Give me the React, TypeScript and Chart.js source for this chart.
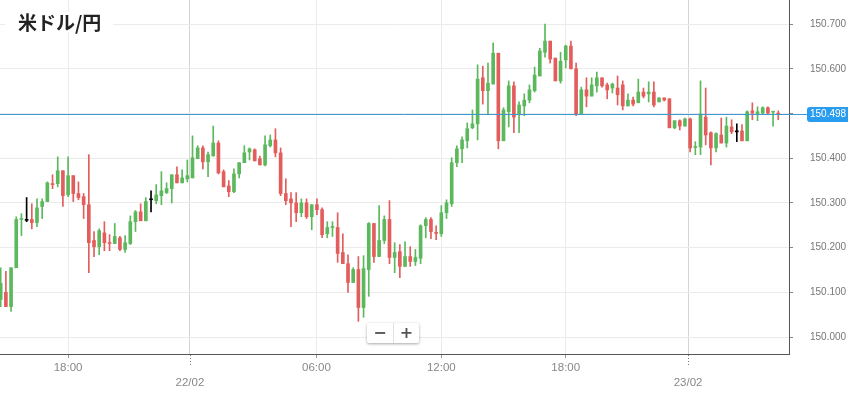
import { useEffect, useRef } from "react";
import { Chart, registerables } from "chart.js";
Chart.register(...registerables);

const TITLE = "米ドル/円";
const LAST_PRICE = 150.498;
const X_TICK_INDEX = [13, 36.5, 60.9, 85, 109, 132.6];
const X_TICK_LABELS = ["18:00", "22/02", "06:00", "12:00", "18:00", "23/02"];
const DATE_TICK_INDEX = [36.5, 132.6];
const Y_TICKS = [150.0, 150.1, 150.2, 150.3, 150.4, 150.5, 150.6, 150.7];
const X_MIN = -0.135;
const X_MAX = 152.07;
const Y_MIN = 149.962;
const Y_MAX = 150.754;

const OPEN = [
  150.084, 150.100, 150.068, 150.155, 150.263, 150.261, 150.263, 150.256, 150.292, 150.303,
  150.343, 150.343, 150.372, 150.318, 150.361, 150.321, 150.314, 150.296, 150.216, 150.202,
  150.233, 150.211, 150.209, 150.222, 150.196, 150.209, 150.258, 150.280, 150.260, 150.307,
  150.305, 150.316, 150.323, 150.332, 150.363, 150.345, 150.354, 150.356, 150.399, 150.423,
  150.392, 150.405, 150.434, 150.370, 150.338, 150.325, 150.365, 150.390, 150.414, 150.419,
  150.399, 150.385, 150.428, 150.441, 150.412, 150.321, 150.309, 150.300, 150.278, 150.300,
  150.269, 150.296, 150.285, 150.231, 150.245, 150.245, 150.189, 150.164, 150.122, 150.151,
  150.066, 150.151, 150.254, 150.180, 150.216, 150.263, 150.178, 150.191, 150.158, 150.180,
  150.169, 150.176, 150.249, 150.263, 150.234, 150.231, 150.278, 150.298, 150.390, 150.421,
  150.439, 150.468, 150.477, 150.580, 150.551, 150.566, 150.635, 150.439, 150.504, 150.562,
  150.499, 150.517, 150.530, 150.551, 150.584, 150.637, 150.662, 150.624, 150.573, 150.620,
  150.651, 150.600, 150.499, 150.553, 150.539, 150.562, 150.580, 150.564, 150.557, 150.557,
  150.564, 150.517, 150.530, 150.524, 150.548, 150.544, 150.548, 150.526, 150.535, 150.533,
  150.468, 150.484, 150.472, 150.488, 150.424, 150.425, 150.492, 150.457, 150.423, 150.452,
  150.434, 150.470, 150.459, 150.461, 150.439, 150.506, 150.499, 150.501, 150.513, 150.503,
  150.501,
];
const HIGH = [
  150.155, 150.147, 150.155, 150.269, 150.276, 150.312, 150.298, 150.309, 150.309, 150.347,
  150.363, 150.403, 150.372, 150.403, 150.361, 150.347, 150.321, 150.408, 150.236, 150.242,
  150.258, 150.229, 150.254, 150.225, 150.227, 150.271, 150.283, 150.298, 150.312, 150.327,
  150.341, 150.370, 150.345, 150.363, 150.381, 150.374, 150.396, 150.450, 150.428, 150.428,
  150.414, 150.472, 150.439, 150.374, 150.350, 150.376, 150.390, 150.428, 150.423, 150.421,
  150.405, 150.450, 150.452, 150.466, 150.423, 150.354, 150.323, 150.323, 150.309, 150.309,
  150.296, 150.309, 150.289, 150.258, 150.258, 150.278, 150.231, 150.184, 150.155, 150.180,
  150.182, 150.256, 150.254, 150.294, 150.271, 150.305, 150.211, 150.207, 150.213, 150.202,
  150.196, 150.251, 150.267, 150.267, 150.249, 150.294, 150.307, 150.401, 150.428, 150.448,
  150.479, 150.508, 150.609, 150.606, 150.613, 150.658, 150.635, 150.513, 150.573, 150.571,
  150.526, 150.544, 150.564, 150.604, 150.646, 150.700, 150.662, 150.624, 150.637, 150.653,
  150.662, 150.613, 150.559, 150.580, 150.580, 150.593, 150.580, 150.568, 150.568, 150.584,
  150.573, 150.544, 150.537, 150.577, 150.557, 150.571, 150.571, 150.535, 150.535, 150.533,
  150.484, 150.486, 150.490, 150.490, 150.437, 150.573, 150.557, 150.459, 150.457, 150.490,
  150.492, 150.486, 150.477, 150.475, 150.506, 150.524, 150.515, 150.515, 150.515, 150.505,
  150.506,
];
const LOW = [
  150.068, 150.068, 150.057, 150.155, 150.227, 150.258, 150.242, 150.247, 150.265, 150.303,
  150.332, 150.336, 150.292, 150.314, 150.303, 150.307, 150.265, 150.144, 150.180, 150.184,
  150.193, 150.193, 150.209, 150.193, 150.189, 150.207, 150.236, 150.260, 150.260, 150.280,
  150.298, 150.296, 150.321, 150.300, 150.345, 150.345, 150.347, 150.356, 150.399, 150.376,
  150.359, 150.405, 150.365, 150.336, 150.314, 150.323, 150.356, 150.390, 150.396, 150.394,
  150.385, 150.383, 150.425, 150.403, 150.316, 150.296, 150.247, 150.258, 150.269, 150.265,
  150.240, 150.274, 150.222, 150.222, 150.225, 150.167, 150.164, 150.100, 150.122, 150.035,
  150.044, 150.091, 150.167, 150.180, 150.209, 150.164, 150.144, 150.133, 150.158, 150.158,
  150.160, 150.164, 150.222, 150.220, 150.218, 150.225, 150.265, 150.292, 150.381, 150.390,
  150.423, 150.466, 150.441, 150.521, 150.499, 150.566, 150.421, 150.439, 150.470, 150.457,
  150.457, 150.495, 150.524, 150.548, 150.584, 150.626, 150.613, 150.573, 150.568, 150.602,
  150.600, 150.495, 150.499, 150.515, 150.539, 150.548, 150.559, 150.533, 150.546, 150.519,
  150.508, 150.517, 150.517, 150.524, 150.535, 150.526, 150.515, 150.526, 150.528, 150.468,
  150.466, 150.463, 150.472, 150.414, 150.408, 150.408, 150.430, 150.385, 150.414, 150.434,
  150.425, 150.455, 150.437, 150.439, 150.439, 150.486, 150.484, 150.499, 150.499, 150.472,
  150.486,
];
const CLOSE = [
  150.120, 150.068, 150.155, 150.263, 150.265, 150.261, 150.256, 150.289, 150.303, 150.345,
  150.341, 150.372, 150.316, 150.361, 150.321, 150.312, 150.296, 150.211, 150.202, 150.238,
  150.211, 150.209, 150.225, 150.196, 150.211, 150.258, 150.280, 150.260, 150.303, 150.307,
  150.318, 150.327, 150.332, 150.363, 150.345, 150.356, 150.361, 150.401, 150.423, 150.392,
  150.408, 150.434, 150.367, 150.336, 150.325, 150.365, 150.390, 150.412, 150.421, 150.394,
  150.385, 150.430, 150.441, 150.412, 150.321, 150.305, 150.300, 150.278, 150.300, 150.269,
  150.296, 150.285, 150.229, 150.245, 150.246, 150.187, 150.164, 150.122, 150.151, 150.066,
  150.153, 150.254, 150.180, 150.216, 150.263, 150.178, 150.189, 150.158, 150.180, 150.169,
  150.178, 150.249, 150.263, 150.236, 150.232, 150.278, 150.300, 150.390, 150.421, 150.441,
  150.466, 150.477, 150.577, 150.551, 150.568, 150.635, 150.439, 150.508, 150.562, 150.492,
  150.519, 150.530, 150.553, 150.586, 150.640, 150.662, 150.622, 150.573, 150.617, 150.651,
  150.600, 150.499, 150.553, 150.539, 150.564, 150.580, 150.562, 150.553, 150.566, 150.542,
  150.517, 150.530, 150.521, 150.548, 150.539, 150.548, 150.519, 150.535, 150.530, 150.468,
  150.484, 150.472, 150.488, 150.423, 150.425, 150.499, 150.452, 150.423, 150.455, 150.434,
  150.472, 150.459, 150.459, 150.439, 150.504, 150.501, 150.504, 150.513, 150.501, 150.504,
  150.498,
];

const GREEN = "#5cb85c";
const RED = "#e35d5d";
const BLACK = "#000000";
const FONT = "'Liberation Sans', Arial, sans-serif";

function candleColor(i: number) {
  if (CLOSE[i] > OPEN[i]) return GREEN;
  if (CLOSE[i] < OPEN[i]) return RED;
  return BLACK;
}

const overlayPlugin = {
  id: "overlay",
  afterDatasetsDraw(chart: any) {
    const { ctx, chartArea, scales } = chart;
    const y = scales.y;
    const py = Math.round(y.getPixelForValue(LAST_PRICE)) + 0.5;
    const boxLeft = 807;
    ctx.save();
    ctx.strokeStyle = "#3d9ad1";
    ctx.lineWidth = 1;
    ctx.beginPath();
    ctx.moveTo(chartArea.left, py);
    ctx.lineTo(boxLeft, py);
    ctx.stroke();
    ctx.restore();
  },
  afterDraw(chart: any) {
    const { ctx, scales } = chart;
    const y = scales.y;
    const x = scales.x;
    const py = Math.round(y.getPixelForValue(LAST_PRICE)) + 0.5;
    ctx.save();
    const bx = 807, bh = 15, bw = 46, r = 3;
    const by = py - bh / 2;
    ctx.fillStyle = "#2a9cf0";
    ctx.beginPath();
    ctx.moveTo(bx + r, by);
    ctx.lineTo(bx + bw - r, by);
    ctx.quadraticCurveTo(bx + bw, by, bx + bw, by + r);
    ctx.lineTo(bx + bw, by + bh - r);
    ctx.quadraticCurveTo(bx + bw, by + bh, bx + bw - r, by + bh);
    ctx.lineTo(bx + r, by + bh);
    ctx.quadraticCurveTo(bx, by + bh, bx, by + bh - r);
    ctx.lineTo(bx, by + r);
    ctx.quadraticCurveTo(bx, by, bx + r, by);
    ctx.fill();
    ctx.fillStyle = "#ffffff";
    ctx.font = "10px " + FONT;
    ctx.textBaseline = "middle";
    ctx.textAlign = "left";
    ctx.fillText(LAST_PRICE.toFixed(3), 810, py);
    ctx.strokeStyle = "#777";
    ctx.lineWidth = 1;
    ctx.setLineDash([1, 2]);
    DATE_TICK_INDEX.forEach((v) => {
      const px = Math.round(x.getPixelForValue(v)) + 0.5;
      ctx.beginPath();
      ctx.moveTo(px, x.top + 1);
      ctx.lineTo(px, x.top + 11);
      ctx.stroke();
    });
    ctx.restore();
  },
};

export default function App() {
  const ref = useRef<HTMLCanvasElement | null>(null);
  useEffect(() => {
    if (!ref.current) return;
    const bodies = OPEN.map((o, i) => ({ x: i, y: [Math.min(o, CLOSE[i]), Math.max(o, CLOSE[i])] }));
    const wicks = HIGH.map((h, i) => ({ x: i, y: [LOW[i], h] }));
    const colors = OPEN.map((_, i) => candleColor(i));
    const chart = new Chart(ref.current, {
      type: "bar",
      data: {
        datasets: [
          {
            data: bodies as any,
            backgroundColor: colors,
            borderWidth: 0,
            barThickness: 3,
            minBarLength: 1,
            grouped: false,
          } as any,
          {
            data: wicks as any,
            backgroundColor: colors,
            borderWidth: 0,
            barThickness: 1,
            minBarLength: 1,
            grouped: false,
          } as any,
        ],
      },
      options: {
        animation: false,
        responsive: false,
        maintainAspectRatio: false,
        events: [],
        layout: { padding: 0 },
        plugins: { legend: { display: false }, tooltip: { enabled: false }, title: { display: false } },
        scales: {
          x: {
            type: "linear",
            min: X_MIN,
            max: X_MAX,
            offset: false,
            afterBuildTicks: (s: any) => {
              s.ticks = X_TICK_INDEX.map((v) => ({ value: v }));
            },
            afterFit: (s: any) => {
              s.height = 40;
              s.paddingLeft = 0;
              s.paddingRight = 0;
            },
            ticks: {
              autoSkip: false,
              maxRotation: 0,
              minRotation: 0,
              padding: 3,
              color: "#888",
              font: { family: FONT, size: 11.5, lineHeight: 1.25 },
              callback: (v: any) => {
                const k = X_TICK_INDEX.indexOf(Number(v));
                const label = X_TICK_LABELS[k] ?? "";
                return DATE_TICK_INDEX.includes(Number(v)) ? ["", label] : label;
              },
            },
            grid: {
              offset: false,
              color: (c: any) => (c.tick && DATE_TICK_INDEX.includes(c.tick.value) ? "#d4d4d4" : "#ebebeb"),
              tickLength: 4,
              tickColor: (c: any) => (c.tick && DATE_TICK_INDEX.includes(c.tick.value) ? "rgba(0,0,0,0)" : "#999"),
            },
            border: { color: "#555", width: 1 },
          } as any,
          y: {
            position: "right",
            min: Y_MIN,
            max: Y_MAX,
            beginAtZero: false,
            afterBuildTicks: (s: any) => {
              s.ticks = Y_TICKS.map((v) => ({ value: v }));
            },
            afterFit: (s: any) => {
              s.width = 59;
              s.paddingTop = 0;
              s.paddingBottom = 0;
            },
            ticks: {
              padding: 17,
              color: "#777",
              font: { family: FONT, size: 10 },
              callback: (v: any) => Number(v).toFixed(3),
            },
            grid: { color: "#ebebeb", tickLength: 4, tickColor: "#888" },
            border: { color: "#555", width: 1 },
          } as any,
        },
      },
      plugins: [overlayPlugin],
    });
    return () => chart.destroy();
  }, []);

  return (
    <div style={{ position: "fixed", left: 0, top: 0, width: 848, height: 394, background: "#fff" }}>
      <canvas ref={ref} width={848} height={394} style={{ width: 848, height: 394, display: "block" }} />
      <div
        style={{
          position: "absolute",
          left: 5,
          top: 11,
          height: 21,
          lineHeight: "21px",
          padding: "0 12px 0 13px",
          background: "#fff",
          color: "#222",
          fontFamily: "'Noto Sans CJK JP', sans-serif",
          fontWeight: 700,
          fontSize: 19,
          whiteSpace: "nowrap",
        }}
      >
        {TITLE}
      </div>
      <div
        style={{
          position: "absolute",
          left: 367,
          top: 323,
          width: 52,
          height: 20,
          background: "#fff",
          borderRadius: 2,
          boxShadow: "0 1px 3px rgba(0,0,0,0.35)",
          display: "flex",
          fontFamily: "'DejaVu Sans', sans-serif",
          fontWeight: 700,
          fontSize: 16,
          color: "#555",
        }}
      >
        <div style={{ width: 26, textAlign: "center", lineHeight: "20px", borderRight: "1px solid #e2e2e2" }}>−</div>
        <div style={{ width: 25, textAlign: "center", lineHeight: "20px" }}>+</div>
      </div>
    </div>
  );
}
